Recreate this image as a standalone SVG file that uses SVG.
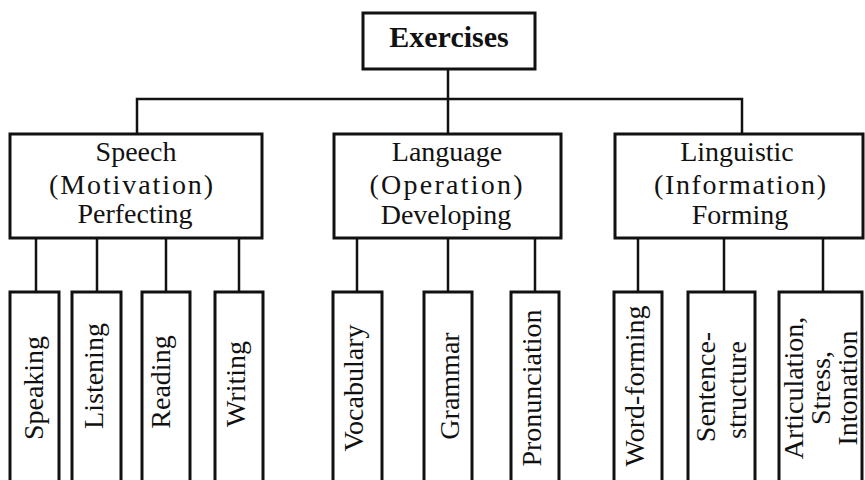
<svg xmlns="http://www.w3.org/2000/svg" width="865" height="480" viewBox="0 0 865 480">
<style>
.box{fill:#fff;stroke:#111;stroke-width:3}
.ln{fill:none;stroke:#111;stroke-width:2.5}
text{font-family:"Liberation Serif","Times New Roman",serif;font-size:28px;fill:#111;text-anchor:middle}
.b{font-weight:bold;font-size:30px}
</style>
<rect width="865" height="480" fill="#fff"/>
<g id="connectors" class="ln">
<path d="M448,69V134M137,134V99H742V134"/>
<path d="M36,238V292M97,238V292M166,238V292M239,238V292"/>
<path d="M357,238V292M448,238V292M535,238V292"/>
<path d="M638,238V292M724,238V292M823,238V292"/>
</g>
<g id="exercises"><rect class="box" x="363" y="13" width="172" height="56"/><text class="b" x="449" y="47">Exercises</text></g>
<g id="speech"><rect class="box" x="10" y="134" width="252" height="104"/>
<text x="136" y="161">Speech</text><text x="131" y="194" textLength="164" lengthAdjust="spacing">(Motivation)</text><text x="135" y="223">Perfecting</text></g>
<g id="language"><rect class="box" x="334" y="134" width="227" height="104"/>
<text x="447" y="161">Language</text><text x="446" y="194" textLength="153" lengthAdjust="spacing">(Operation)</text><text x="446" y="224">Developing</text></g>
<g id="linguistic"><rect class="box" x="615" y="134" width="248" height="104"/>
<text x="737" y="161">Linguistic</text><text x="740" y="194" textLength="172" lengthAdjust="spacing">(Information)</text><text x="740" y="224">Forming</text></g>
<g id="speaking"><rect class="box" x="10" y="292" width="49" height="200"/><text transform="translate(43,388) rotate(-90)">Speaking</text></g>
<g id="listening"><rect class="box" x="72" y="292" width="49" height="200"/><text transform="translate(103,376) rotate(-90)">Listening</text></g>
<g id="reading"><rect class="box" x="142" y="292" width="48" height="200"/><text transform="translate(170,382) rotate(-90)">Reading</text></g>
<g id="writing"><rect class="box" x="215" y="292" width="48" height="200"/><text transform="translate(245,384) rotate(-90)">Writing</text></g>
<g id="vocabulary"><rect class="box" x="333" y="292" width="49" height="200"/><text transform="translate(363,388) rotate(-90)">Vocabulary</text></g>
<g id="grammar"><rect class="box" x="424" y="292" width="48" height="200"/><text transform="translate(459,386) rotate(-90)">Grammar</text></g>
<g id="pronunciation"><rect class="box" x="511" y="292" width="48" height="200"/><text transform="translate(541,388) rotate(-90)">Pronunciation</text></g>
<g id="word-forming"><rect class="box" x="614" y="292" width="48" height="200"/><text transform="translate(644,386) rotate(-90)">Word-forming</text></g>
<g id="sentence-structure"><rect class="box" x="688" y="292" width="67" height="200"/><text transform="translate(715,387) rotate(-90)">Sentence-</text><text transform="translate(746,390) rotate(-90)">structure</text></g>
<g id="articulation"><rect class="box" x="779" y="292" width="83" height="200"/><text transform="translate(803,388) rotate(-90)">Articulation,</text><text transform="translate(830,388) rotate(-90)">Stress,</text><text transform="translate(857,388) rotate(-90)">Intonation</text></g>
</svg>
